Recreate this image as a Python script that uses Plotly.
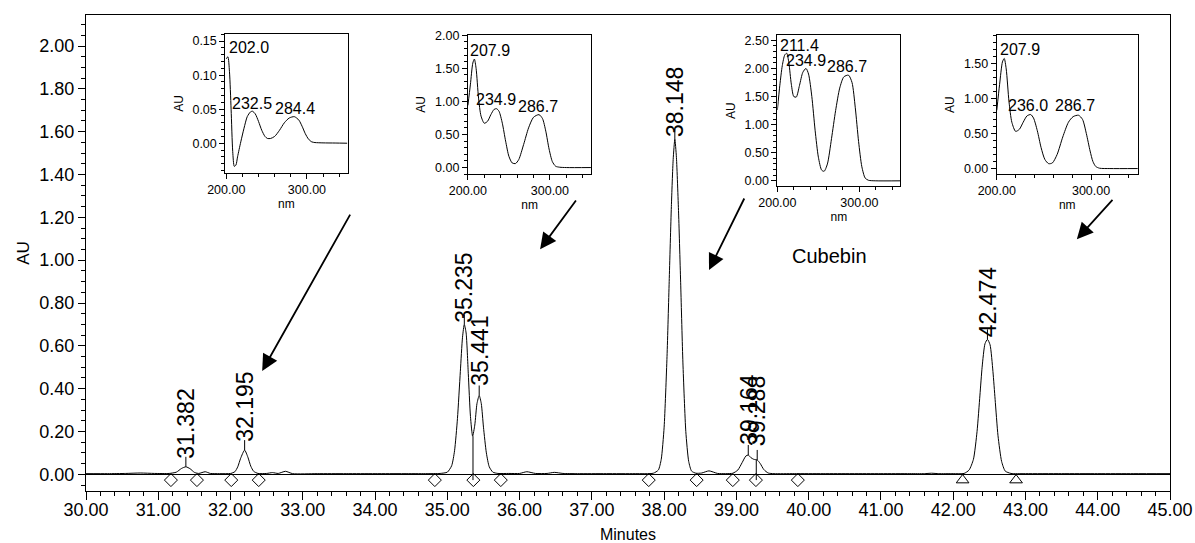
import plotly.graph_objects as go

# ---------------- main chromatogram data ----------------
time_min = [30.00, 30.30, 30.55, 30.75, 30.95, 31.15, 31.25, 31.32, 31.382, 31.44, 31.50, 31.56, 31.65, 31.72,
            31.85, 32.00, 32.06, 32.10, 32.14, 32.195, 32.24, 32.28, 32.32, 32.38, 32.50, 32.58, 32.66,
            32.76, 32.86, 33.20, 33.60, 34.00, 34.40, 34.70, 34.90, 35.00, 35.06, 35.10, 35.14, 35.18,
            35.21, 35.235, 35.26, 35.29, 35.32, 35.35, 35.38, 35.41, 35.441, 35.47, 35.50, 35.54, 35.58,
            35.63, 35.70, 35.85, 36.00, 36.10, 36.22, 36.38, 36.48, 36.60, 36.80, 37.20, 37.60, 37.85,
            37.92, 37.96, 38.00, 38.04, 38.07, 38.10, 38.125, 38.148, 38.17, 38.20, 38.23, 38.26, 38.30,
            38.34, 38.38, 38.44, 38.52, 38.62, 38.74, 38.85, 38.95, 39.02, 39.08, 39.13, 39.164, 39.20,
            39.24, 39.288, 39.33, 39.38, 39.44, 39.52, 39.80, 40.20, 40.60, 41.00, 41.40, 41.60, 41.70,
            41.80, 42.00, 42.15, 42.22, 42.28, 42.33, 42.37, 42.40, 42.44, 42.474, 42.51, 42.55, 42.58,
            42.62, 42.67, 42.72, 42.80, 43.00, 43.50, 44.00, 44.50, 45.00]
absorb_au = [0.003, 0.003, 0.004, 0.006, 0.004, 0.004, 0.010, 0.027, 0.035, 0.026, 0.009, 0.004, 0.012, 0.004,
             0.003, 0.004, 0.012, 0.035, 0.075, 0.113, 0.080, 0.038, 0.014, 0.004, 0.004, 0.008, 0.004,
             0.014, 0.003, 0.003, 0.003, 0.003, 0.003, 0.003, 0.004, 0.010, 0.040, 0.110, 0.260, 0.480,
             0.640, 0.700, 0.660, 0.470, 0.270, 0.178, 0.230, 0.330, 0.368, 0.330, 0.220, 0.100, 0.035,
             0.010, 0.004, 0.004, 0.004, 0.012, 0.004, 0.004, 0.009, 0.004, 0.003, 0.003, 0.003, 0.005,
             0.020, 0.070, 0.220, 0.550, 0.900, 1.250, 1.470, 1.565, 1.480, 1.220, 0.880, 0.520, 0.200,
             0.060, 0.015, 0.005, 0.006, 0.016, 0.004, 0.003, 0.005, 0.020, 0.055, 0.085, 0.090, 0.078,
             0.070, 0.067, 0.050, 0.022, 0.006, 0.003, 0.003, 0.003, 0.003, 0.003, 0.003, 0.003, 0.005,
             0.003, 0.003, 0.004, 0.020, 0.070, 0.200, 0.370, 0.500, 0.610, 0.630, 0.605, 0.480, 0.350,
             0.180, 0.060, 0.015, 0.004, 0.003, 0.003, 0.003, 0.003, 0.003]

peak_times = [31.382, 32.195, 35.235, 35.441, 38.148, 39.164, 39.288, 42.474]
peak_heights = [0.035, 0.113, 0.700, 0.368, 1.565, 0.090, 0.067, 0.630]
peak_labels = ["31.382", "32.195", "35.235", "35.441", "38.148", "39.164", "39.288", "42.474"]

diamond_times = [31.175, 31.535, 32.01, 32.39, 34.827, 35.36, 35.74, 37.787, 38.45, 38.95, 39.27, 39.85]
triangle_times = [42.13, 42.87]
drop_times = [35.355, 39.275]
drop_tops = [0.178, 0.068]

# ---------------- UV spectra (insets) ----------------
nm1 = [200, 202, 204, 206, 208, 210, 212, 214, 218, 222, 226, 230, 232.5, 236, 240, 244, 248, 251, 255,
       260, 266, 272, 278, 284.4, 290, 294, 298, 302, 306, 310, 320, 335, 350]
au1 = [0.124, 0.127, 0.105, 0.050, -0.012, -0.034, -0.032, -0.020, 0.002, 0.022, 0.039, 0.046, 0.047, 0.043,
       0.032, 0.019, 0.010, 0.007, 0.007, 0.010, 0.019, 0.030, 0.037, 0.039, 0.034, 0.025, 0.014, 0.006,
       0.002, 0.001, 0.0005, 0.0003, 0.0]
nm2 = [200, 203, 206, 207.9, 210, 213, 216, 220, 224, 228, 232, 235, 238, 242, 246, 250, 254, 258, 262,
       268, 274, 280, 286.7, 291, 295, 299, 303, 307, 312, 320, 350]
au2 = [0.94, 1.25, 1.58, 1.64, 1.50, 1.05, 0.78, 0.67, 0.70, 0.80, 0.88, 0.89, 0.85, 0.67, 0.40, 0.17, 0.07,
       0.06, 0.12, 0.35, 0.60, 0.76, 0.80, 0.74, 0.55, 0.28, 0.09, 0.02, 0.005, 0.0, 0.0]
nm3 = [200, 203, 206, 209, 211.4, 214, 217, 220, 223, 227, 231, 234.9, 238, 242, 246, 250, 254, 257, 261,
       266, 271, 276, 281, 286.7, 291, 295, 299, 303, 307, 311, 320, 350]
au3 = [1.26, 1.70, 2.05, 2.24, 2.27, 2.10, 1.72, 1.50, 1.49, 1.70, 1.93, 2.00, 1.90, 1.50, 0.90, 0.42, 0.19,
       0.17, 0.30, 0.75, 1.25, 1.65, 1.85, 1.88, 1.75, 1.30, 0.70, 0.25, 0.05, 0.01, 0.0, 0.0]
nm4 = [200, 203, 206, 207.9, 210, 213, 216, 220, 224, 228, 232, 236, 239, 243, 247, 251, 255, 259, 264,
       270, 276, 281, 286.7, 291, 295, 299, 302, 305, 309, 320, 350]
au4 = [0.83, 1.20, 1.52, 1.57, 1.42, 0.95, 0.66, 0.53, 0.56, 0.66, 0.75, 0.77, 0.72, 0.54, 0.30, 0.13, 0.07,
       0.08, 0.20, 0.45, 0.66, 0.74, 0.76, 0.70, 0.50, 0.25, 0.10, 0.03, 0.005, 0.0, 0.0]

spec_labels = [
    [("202.0", 201.0, 0.140, "left"), ("232.5", 232.3, 0.059, "center"), ("284.4", 284.8, 0.051, "center")],
    [("207.9", 200.5, 1.77, "left"), ("234.9", 234.5, 1.03, "center"), ("286.7", 285.7, 0.92, "center")],
    [("211.4", 200.3, 2.40, "left"), ("234.9", 234.8, 2.14, "center"), ("286.7", 285.0, 2.03, "center")],
    [("207.9", 201.7, 1.70, "left"), ("236.0", 233.2, 0.90, "center"), ("286.7", 283.0, 0.90, "center")],
]

FONT = "Liberation Sans, Arial, Helvetica, sans-serif"

fig = go.Figure()

# main trace
fig.add_trace(go.Scatter(x=time_min, y=absorb_au, mode="lines",
                         line=dict(color="black", width=1, shape="spline", smoothing=0.6),
                         hoverinfo="skip", showlegend=False))

# layout geometry (pixels) for converting pixel gaps into data units
Y_RANGE = [-0.078, 2.145]
PLOT_H = 543 - 15 - 52
px_per_au = PLOT_H / (Y_RANGE[1] - Y_RANGE[0])
tick_len_au = 10 / px_per_au

# apex tick marks
tx, ty = [], []
for t, h in zip(peak_times, peak_heights):
    tx += [t, t, None]
    ty += [h, h + tick_len_au, None]
# drop lines
for t, top in zip(drop_times, drop_tops):
    tx += [t, t, None]
    ty += [-0.027, top, None]
fig.add_trace(go.Scatter(x=tx, y=ty, mode="lines", line=dict(color="black", width=1),
                         hoverinfo="skip", showlegend=False))

# baseline markers
fig.add_trace(go.Scatter(x=diamond_times, y=[-0.027] * len(diamond_times), mode="markers",
                         marker=dict(symbol="diamond-open", size=10, color="black", line=dict(width=1)),
                         hoverinfo="skip", showlegend=False))
fig.add_trace(go.Scatter(x=triangle_times, y=[-0.027] * len(triangle_times), mode="markers",
                         marker=dict(symbol="triangle-up-open", size=11, color="black", line=dict(width=1)),
                         hoverinfo="skip", showlegend=False))

# insets
spectra = [(nm1, au1), (nm2, au2), (nm3, au3), (nm4, au4)]
for i, (xs, ys) in enumerate(spectra):
    k = i + 2
    fig.add_trace(go.Scatter(x=xs, y=ys, mode="lines", xaxis=f"x{k}", yaxis=f"y{k}",
                             line=dict(color="black", width=1, shape="spline", smoothing=0.7),
                             hoverinfo="skip", showlegend=False))

annotations = []
label_gap_px = [6, 6, 0, 8, 0, 8, 12, 0]
for t, h, lab, g in zip(peak_times, peak_heights, peak_labels, label_gap_px):
    annotations.append(dict(x=t, y=h, xref="x", yref="y", text=lab, showarrow=False,
                            textangle=-90, xanchor="center", yanchor="bottom", yshift=g,
                            font=dict(family=FONT, size=23, color="black")))

annotations.append(dict(x=40.29, y=1.018, xref="x", yref="y", text="Cubebin", showarrow=False,
                        font=dict(family=FONT, size=20, color="black")))

# arrows (tail -> head) in data coordinates
arrows = [((33.667, 1.220), (32.438, 0.483)),
          ((36.795, 1.286), (36.284, 1.051)),
          ((39.119, 1.295), (38.621, 0.954)),
          ((44.223, 1.289), (43.711, 1.098))]
for (ax_, ay_), (hx, hy) in arrows:
    annotations.append(dict(x=hx, y=hy, ax=ax_, ay=ay_, xref="x", yref="y", axref="x", ayref="y",
                            text="", showarrow=True, arrowhead=2, arrowsize=1.8, arrowwidth=1.8,
                            arrowcolor="black"))

for i, labs in enumerate(spec_labels):
    k = i + 2
    for txt, xv, yv, anc in labs:
        annotations.append(dict(x=xv, y=yv, xref=f"x{k}", yref=f"y{k}", text=txt, showarrow=False,
                                xanchor=anc, yanchor="middle",
                                font=dict(family=FONT, size=16, color="black")))

layout = dict(
    width=1195, height=543,
    margin=dict(l=86, r=25, t=15, b=52),
    paper_bgcolor="white", plot_bgcolor="white",
    font=dict(family=FONT, color="black"),
    showlegend=False,
    annotations=annotations,
    xaxis=dict(range=[30, 45], dtick=1, tick0=30, tickformat=".2f", showgrid=False, zeroline=False,
               ticks="outside", ticklen=8, tickwidth=1, tickcolor="black",
               minor=dict(dtick=0.2, ticks="outside", ticklen=4, tickcolor="black", showgrid=False),
               showline=True, linecolor="black", linewidth=1, mirror=True,
               ticklabelstandoff=-6,
               tickfont=dict(size=18), title=dict(text="Minutes", font=dict(size=16), standoff=12),
               automargin=False),
    yaxis=dict(range=Y_RANGE, dtick=0.2, tick0=0, tickformat=".2f", showgrid=False,
               zeroline=True, zerolinecolor="black", zerolinewidth=1,
               ticks="outside", ticklen=7, tickwidth=1, tickcolor="black",
               minor=dict(dtick=0.05, tick0=0, ticks="outside", ticklen=4, tickcolor="black", showgrid=False),
               showline=True, linecolor="black", linewidth=1, mirror=True,
               tickfont=dict(size=18), title=dict(text="AU", font=dict(size=17), standoff=5),
               automargin=False),
)

inset_domains = [([0.1285, 0.2413], [0.6691, 0.9595]),
                 ([0.3523, 0.4663], [0.6656, 0.9588]),
                 ([0.6378, 0.7513], [0.6410, 0.9574]),
                 ([0.8402, 0.9702], [0.6656, 0.9574])]
inset_xr = [[198.8, 350.4], [200, 350.7], [200, 350], [200, 349.5]]
inset_yr = [[-0.043, 0.160], [-0.10, 2.01], [-0.09, 2.59], [-0.08, 1.90]]
inset_dt = [(0.05, 0.01), (0.5, 0.1), (0.5, 0.1), (0.5, 0.1)]

for i in range(4):
    k = i + 2
    xd, yd = inset_domains[i]
    layout[f"xaxis{k}"] = dict(domain=xd, anchor=f"y{k}", range=inset_xr[i], dtick=100, tick0=200,
                               tickformat=".2f", showgrid=False, zeroline=False,
                               ticks="outside", ticklen=5, tickcolor="black",
                               minor=dict(dtick=20, tick0=200, ticks="outside", ticklen=3, tickcolor="black"),
                               showline=True, linecolor="black", linewidth=1, mirror=True,
                               tickfont=dict(size=12.5),
                               title=dict(text="nm", font=dict(size=12), standoff=3), automargin=False)
    layout[f"yaxis{k}"] = dict(domain=yd, anchor=f"x{k}", range=inset_yr[i], dtick=inset_dt[i][0], tick0=0,
                               tickformat=".2f", showgrid=False, zeroline=False,
                               ticks="outside", ticklen=5, tickcolor="black",
                               minor=dict(dtick=inset_dt[i][1], tick0=0, ticks="outside", ticklen=3,
                                          tickcolor="black"),
                               showline=True, linecolor="black", linewidth=1, mirror=True,
                               tickfont=dict(size=12.5),
                               title=dict(text="AU", font=dict(size=12), standoff=6), automargin=False)

fig.update_layout(**layout)
fig.write_html("out.html")
